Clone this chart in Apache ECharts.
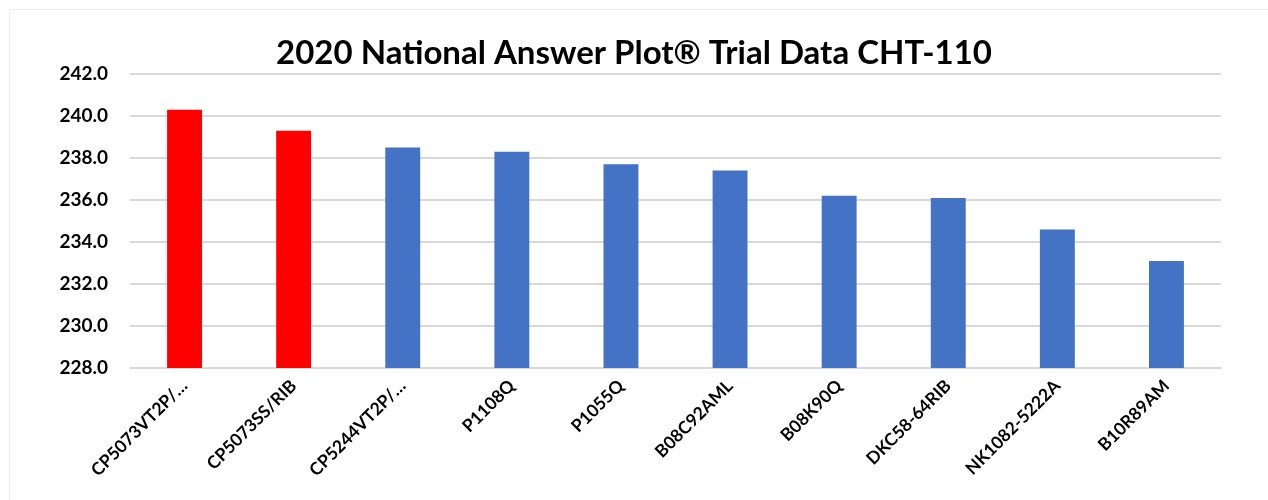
<!DOCTYPE html>
<html>
<head>
<meta charset="utf-8">
<script src="https://cdn.jsdelivr.net/npm/echarts@6/dist/echarts.min.js"></script>
<style>
html,body{margin:0;padding:0;background:#fff;}
#frame{position:absolute;left:9px;top:9px;width:1259px;height:491px;border-left:1px solid #ececec;border-top:1px solid #ececec;box-sizing:border-box;}
#chart{position:absolute;left:0;top:0;width:1268px;height:500px;}
</style>
</head>
<body>
<div id="frame"></div>
<div id="chart"></div>
<script>
const categories = ["CP5073VT2P/…","CP5073SS/RIB","CP5244VT2P/…","P1108Q","P1055Q","B08C92AML","B08K90Q","DKC58-64RIB","NK1082-5222A","B10R89AM"];
const values = [240.3, 239.3, 238.5, 238.3, 237.7, 237.4, 236.2, 236.1, 234.6, 233.1];
const highlighted = [true, true, false, false, false, false, false, false, false, false];
const titleText = "2020 National Answer Plot® Trial Data CHT-110";

const chart = echarts.init(document.getElementById('chart'));
chart.setOption({
  animation: false,
  backgroundColor: 'transparent',
  title: {
    text: titleText,
    left: 'center',
    top: 32,
    textStyle: {fontFamily: 'Lato', fontWeight: 'bold', fontSize: 33, color: '#000'}
  },
  grid: {left: 130, right: 47, top: 74, bottom: 132, containLabel: false},
  xAxis: {
    type: 'category',
    data: categories,
    axisLine: {show: true, lineStyle: {color: '#d9d9d9', width: 2}},
    axisTick: {show: false},
    axisLabel: {rotate: 45, interval: 0, margin: 15, fontFamily: 'Lato', fontWeight: 'bold', fontSize: 17.5, color: '#000'}
  },
  yAxis: {
    type: 'value',
    min: 228, max: 242, interval: 2,
    axisLine: {show: false},
    axisTick: {show: false},
    splitLine: {lineStyle: {color: '#d9d9d9', width: 2}},
    axisLabel: {formatter: v => v.toFixed(1), margin: 22, fontFamily: 'Lato', fontWeight: 'bold', fontSize: 19, color: '#000'}
  },
  series: [{
    type: 'bar',
    barWidth: '32%',
    data: values.map((v, i) => ({value: v, itemStyle: {color: highlighted[i] ? '#ff0000' : '#4472c4'}}))
  }]
});
</script>
</body>
</html>
